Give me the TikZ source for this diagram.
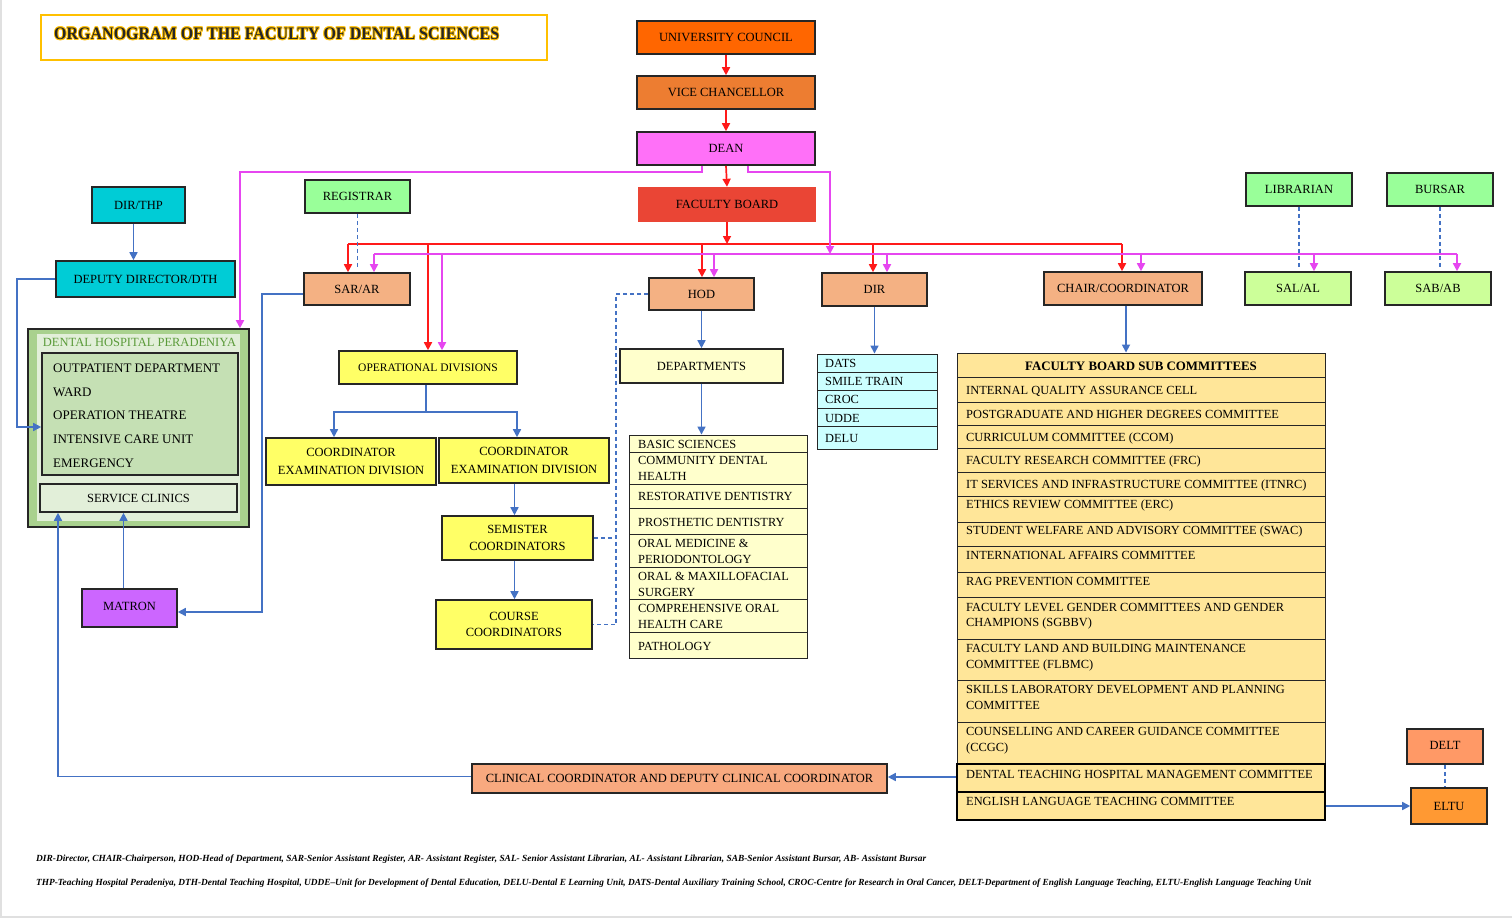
\documentclass[tikz,border=0pt]{standalone}
\usepackage{fontspec}
\setmainfont{Liberation Serif}
\usetikzlibrary{arrows.meta}
\definecolor{cUC}{HTML}{FF6600}
\definecolor{cVC}{HTML}{ED7D31}
\definecolor{cDean}{HTML}{FF70F8}
\definecolor{cFB}{HTML}{EA4535}
\definecolor{cGreen}{HTML}{99FF99}
\definecolor{cLG}{HTML}{CCFF99}
\definecolor{cSal}{HTML}{F4B183}
\definecolor{cCyan}{HTML}{00CCD6}
\definecolor{cDHP}{HTML}{A9D18E}
\definecolor{cDHPm}{HTML}{C5E0B4}
\definecolor{cDHPl}{HTML}{E2EFD9}
\definecolor{cDHPt}{HTML}{5B9B3A}
\definecolor{cMatron}{HTML}{CC66FF}
\definecolor{cYel}{HTML}{FFFF66}
\definecolor{cLY}{HTML}{FFFFCC}
\definecolor{cLC}{HTML}{CCFFFF}
\definecolor{cTab}{HTML}{FFE699}
\definecolor{cClin}{HTML}{F8A97F}
\definecolor{cDelt}{HTML}{FF9966}
\definecolor{cEltu}{HTML}{FF9933}
\definecolor{cGold}{HTML}{FFC000}
\definecolor{cBlue}{HTML}{4472C4}
\definecolor{cRed}{HTML}{FF1A1A}
\definecolor{cMag}{HTML}{E646F0}
\definecolor{cBorder}{HTML}{262626}
\newcommand\fsz{\fontsize{12.5}{15}\selectfont}
\newcommand\fsm{\fontsize{12.4}{15}\selectfont}
\newcommand\fsl{\fontsize{13}{15}\selectfont}
\newcommand\mybox[7]{%
  \pgfmathsetmacro\bw{#5-#3}\pgfmathsetmacro\bh{#6-#4}%
  \pgfmathsetmacro\bcx{(#3+#5)/2}\pgfmathsetmacro\bcy{(#4+#6)/2}%
  \node[#2, minimum width=\bw pt, minimum height=\bh pt, inner sep=0pt, align=center] (#1) at (\bcx,\bcy) {#7};}
\newcommand\tline[4]{\node[tx, anchor=base west] (#1) at (#2,#3) {#4};}
\begin{document}
\begin{tikzpicture}[x=1pt,y=-1pt,
  bx/.style={draw=cBorder, line width=1.6pt, font=\fsz},
  nob/.style={font=\fsz},
  tb/.style={draw=cBorder, line width=0.9pt},
  thk/.style={draw=black, line width=2.4pt},
  tx/.style={inner sep=0pt, font=\fsm},
  tl/.style={inner sep=0pt, font=\fsl},
  rl/.style={draw=cRed, line width=1.7pt},
  ra/.style={rl, -{Triangle[length=8pt,width=8pt]}},
  ml/.style={draw=cMag, line width=1.7pt},
  ma/.style={ml, -{Triangle[length=8pt,width=8pt]}},
  bl/.style={draw=cBlue, line width=1.6pt},
  ba/.style={bl, -{Triangle[length=8pt,width=8pt]}},
  bd/.style={bl, dash pattern=on 4pt off 3pt}]
\useasboundingbox (0,0) rectangle (1512,918);
\fill[white] (0,0) rectangle (1512,918);
\fill[black!12] (0,0) rectangle (2,918);
\fill[black!12] (0,916) rectangle (1512,918);

% title
\mybox{titlebox}{draw=cGold, line width=1.2pt}{41}{15}{547}{60}{}
\foreach \dx/\dy in {-0.8/0,0.8/0,0/-0.8,0/0.8,-0.6/-0.6,0.6/0.6,-0.6/0.6,0.6/-0.6}
  \node[anchor=base west, inner sep=0pt, text=cGold, font=\fontsize{16}{18}\selectfont\bfseries] at (54+\dx,39.5+\dy) {\scalebox{1}[1.1]{ORGANOGRAM OF THE FACULTY OF DENTAL SCIENCES}};
\node[anchor=base west, inner sep=0pt, text=black!85, font=\fontsize{16}{18}\selectfont\bfseries] (title) at (54,39.5) {\scalebox{1}[1.1]{ORGANOGRAM OF THE FACULTY OF DENTAL SCIENCES}};

% top chain
\mybox{uc}{bx,fill=cUC}{637}{21}{815}{54}{UNIVERSITY COUNCIL}
\mybox{vc}{bx,fill=cVC}{637}{76}{815}{109}{VICE CHANCELLOR}
\mybox{dean}{bx,fill=cDean}{637}{132}{815}{165}{DEAN}
\mybox{fb}{nob,fill=cFB}{638}{187}{816}{222}{FACULTY BOARD}

% left side
\mybox{reg}{bx,fill=cGreen}{305}{180}{410}{213}{REGISTRAR}
\mybox{sar}{bx,fill=cSal}{304}{273}{410}{305}{SAR/AR}
\mybox{dirthp}{bx,fill=cCyan}{92}{187}{185}{223}{DIR/THP}
\mybox{dep}{bx,fill=cCyan}{56}{261}{235}{297}{DEPUTY DIRECTOR/DTH}
\mybox{dhp}{bx,fill=cDHP}{28}{329}{249}{527}{}
\mybox{dhpin}{fill=cDHPl}{37}{334}{240}{521}{}
\node[anchor=base, inner sep=0pt, font=\fontsize{12.5}{15}\selectfont, text=cDHPt] (dhpt) at (139.5,346.5) {DENTAL HOSPITAL PERADENIYA};
\mybox{wards}{bx,fill=cDHPm}{42}{353}{238}{475}{}
\node[tl, anchor=base west] (w1) at (53,372.5) {OUTPATIENT DEPARTMENT};
\node[tl, anchor=base west] (w2) at (53,396.5) {WARD};
\node[tl, anchor=base west] (w3) at (53,419.5) {OPERATION THEATRE};
\node[tl, anchor=base west] (w4) at (53,443.5) {INTENSIVE CARE UNIT};
\node[tl, anchor=base west] (w5) at (53,467.5) {EMERGENCY};
\mybox{svc}{bx,fill=cDHPl}{40}{484}{237}{512}{SERVICE CLINICS}
\mybox{matron}{bx,fill=cMatron}{82}{589}{177}{627}{\raisebox{3pt}{MATRON}}

% operational divisions
\mybox{opdiv}{bx,fill=cYel,font=\fontsize{11.5}{14}\selectfont}{339}{351}{517}{384}{OPERATIONAL DIVISIONS}
\mybox{ced1}{bx,fill=cYel}{266}{438}{436}{485}{COORDINATOR\\[3pt]EXAMINATION DIVISION}
\mybox{ced2}{bx,fill=cYel}{439}{438}{609}{483}{COORDINATOR\\[3pt]EXAMINATION DIVISION}
\mybox{sem}{bx,fill=cYel}{442}{516}{593}{560}{SEMISTER\\[2pt]COORDINATORS}
\mybox{course}{bx,fill=cYel}{436}{600}{592}{649}{COURSE\\[1pt]COORDINATORS}

% HOD and departments
\mybox{hod}{bx,fill=cSal}{649}{278}{754}{310}{HOD}
\mybox{depts}{bx,fill=cLY}{620}{349}{783}{383}{DEPARTMENTS}
\mybox{dlist}{tb,fill=cLY}{629}{435}{807}{658}{}
\foreach \yy in {452,484,508,534,567,599,632} \draw[cBorder, line width=0.9pt] (629,\yy) -- (807,\yy);
\tline{d1}{638}{448}{BASIC SCIENCES}
\tline{d2}{638}{464}{COMMUNITY DENTAL}
\tline{d2b}{638}{480}{HEALTH}
\tline{d3}{638}{500.5}{RESTORATIVE DENTISTRY}
\tline{d4}{638}{526.5}{PROSTHETIC DENTISTRY}
\tline{d5}{638}{547.5}{ORAL MEDICINE \&}
\tline{d5b}{638}{563.5}{PERIODONTOLOGY}
\tline{d6}{638}{580.5}{ORAL \& MAXILLOFACIAL}
\tline{d6b}{638}{596.5}{SURGERY}
\tline{d7}{638}{612.5}{COMPREHENSIVE ORAL}
\tline{d7b}{638}{628.5}{HEALTH CARE}
\tline{d8}{638}{650.5}{PATHOLOGY}

% DIR
\mybox{dir}{bx,fill=cSal}{822}{273}{927}{306}{DIR}
\mybox{dirlist}{tb,fill=cLC}{817}{354}{937}{449}{}
\foreach \yy in {372,390,408,426} \draw[cBorder, line width=0.9pt] (817,\yy) -- (937,\yy);
\tline{u1}{825}{367.5}{DATS}
\tline{u2}{825}{385.5}{SMILE TRAIN}
\tline{u3}{825}{403.5}{CROC}
\tline{u4}{825}{422.5}{UDDE}
\tline{u5}{825}{442.5}{DELU}

% right top
\mybox{chair}{bx,fill=cSal}{1044}{272}{1202}{305}{CHAIR/COORDINATOR}
\mybox{lib}{bx,fill=cGreen}{1246}{173}{1352}{206}{LIBRARIAN}
\mybox{bursar}{bx,fill=cGreen}{1387}{173}{1493}{206}{BURSAR}
\mybox{sal}{bx,fill=cLG}{1245}{272}{1351}{305}{SAL/AL}
\mybox{sab}{bx,fill=cLG}{1385}{272}{1491}{305}{SAB/AB}

% committees table
\mybox{fbsc}{tb,fill=cTab}{957}{353}{1325}{764}{}
\foreach \yy in {377,402,425,448,472,496,522,546,572,597,639,680,722} \draw[cBorder, line width=0.9pt] (957,\yy) -- (1325,\yy);
\node[anchor=base, inner sep=0pt, font=\fsm\bfseries, scale=1.04] (th) at (1141,370.5) {FACULTY BOARD SUB COMMITTEES};
\tline{c1}{966}{394.5}{INTERNAL QUALITY ASSURANCE CELL}
\tline{c2}{966}{418.5}{POSTGRADUATE AND HIGHER DEGREES COMMITTEE}
\tline{c3}{966}{441.5}{CURRICULUM COMMITTEE (CCOM)}
\tline{c4}{966}{464.5}{FACULTY RESEARCH COMMITTEE (FRC)}
\tline{c5}{966}{488.5}{IT SERVICES AND INFRASTRUCTURE COMMITTEE (ITNRC)}
\tline{c6}{966}{508.5}{ETHICS REVIEW COMMITTEE (ERC)}
\tline{c7}{966}{534.5}{STUDENT WELFARE AND ADVISORY COMMITTEE (SWAC)}
\tline{c8}{966}{559.5}{INTERNATIONAL AFFAIRS COMMITTEE}
\tline{c9}{966}{585.5}{RAG PREVENTION COMMITTEE}
\tline{c10}{966}{611.5}{FACULTY LEVEL GENDER COMMITTEES AND GENDER}
\tline{c10b}{966}{626.5}{CHAMPIONS (SGBBV)}
\tline{c11}{966}{652.5}{FACULTY LAND AND BUILDING MAINTENANCE}
\tline{c11b}{966}{668.5}{COMMITTEE (FLBMC)}
\tline{c12}{966}{693.5}{SKILLS LABORATORY DEVELOPMENT AND PLANNING}
\tline{c12b}{966}{709.5}{COMMITTEE}
\tline{c13}{966}{735.5}{COUNSELLING AND CAREER GUIDANCE COMMITTEE}
\tline{c13b}{966}{751.5}{(CCGC)}
\mybox{dthmc}{thk,fill=cTab}{957}{764}{1325}{792}{}
\tline{c14}{966}{778.5}{DENTAL TEACHING HOSPITAL MANAGEMENT COMMITTEE}
\mybox{eltc}{thk,fill=cTab}{957}{792}{1325}{820}{}
\tline{c15}{966}{805.5}{ENGLISH LANGUAGE TEACHING COMMITTEE}

% bottom boxes
\mybox{clin}{bx,fill=cClin}{472}{764}{887}{793}{CLINICAL COORDINATOR AND DEPUTY CLINICAL COORDINATOR}
\mybox{delt}{bx,fill=cDelt}{1407}{729}{1483}{764}{\raisebox{2pt}{DELT}}
\mybox{eltu}{bx,fill=cEltu}{1411}{788}{1487}{824}{ELTU}

% ---------------- connectors
\draw[ra] (uc.south) -- (vc.north);
\draw[ra] (vc.south) -- (dean.north);
\draw[ra] (dean.south) -- (fb.north);
\coordinate (rL) at (348,244);
\coordinate (rR) at (1122,244);
\coordinate (r2) at (428,244);
\coordinate (r3) at (702,244);
\coordinate (r4) at (873,244);
\draw[ra] (fb.south) -- (fb.south |- rL);
\draw[rl] (rL) -- (rR);
\draw[ra] (rL) -- (rL |- sar.north);
\draw[ra] (r2) -- (r2 |- opdiv.north);
\draw[ra] (r3) -- (r3 |- hod.north);
\draw[ra] (r4) -- (r4 |- dir.north);
\draw[ra] (rR) -- (rR |- chair.north);

\coordinate (mL) at (374,254);
\coordinate (mR) at (1457,254);
\coordinate (m2) at (442,254);
\coordinate (m3) at (714,254);
\coordinate (m4) at (887,254);
\coordinate (m5) at (1141,254);
\coordinate (m6) at (1314,254);
\coordinate (mj) at (830,254);
\coordinate (mjc) at (830,172);
\coordinate (dlc) at (240,172);
\draw[ml] (mL) -- (mR);
\draw[ma] (mL) -- (mL |- sar.north);
\draw[ma] (m2) -- (m2 |- opdiv.north);
\draw[ma] (m3) -- (m3 |- hod.north);
\draw[ma] (m4) -- (m4 |- dir.north);
\draw[ma] (m5) -- (m5 |- chair.north);
\draw[ma] (m6) -- (m6 |- sal.north);
\draw[ma] (mR) -- (mR |- sab.north);
\draw[ma] ([xshift=66pt]dean.south west) |- (dlc) -- (dlc |- dhp.north);
\draw[ma] ([xshift=112pt]dean.south west) |- (mjc) -- (mj);

\draw[bd] (reg.south) -- ([yshift=3pt]reg.south |- sar.north);
\draw[bd] (lib.south) -- ([yshift=2pt]lib.south |- sal.north);
\draw[bd] (bursar.south) -- ([yshift=2pt]bursar.south |- sab.north);
\draw[bd] (delt.south) -- (delt.south |- eltu.north);

\draw[ba] ([xshift=-5pt]dirthp.south) -- ([xshift=-5pt]dirthp.south |- dep.north);
\coordinate (dpl) at (17,279);
\draw[ba] (dep.west) -- (dpl) |- ([yshift=-13pt]wards.west);
\coordinate (smc) at (262,612);
\draw[ba] ([yshift=-5pt]sar.west) -| (smc) -- (smc -| matron.east);
\draw[ba] ([xshift=-6pt]matron.north) -- ([xshift=-6pt]matron.north |- svc.south);
\coordinate (ccl) at (58,0);
\draw[ba] ([yshift=2pt]clin.west) -| (ccl |- svc.south);
\draw[ba] ([yshift=1pt]dthmc.west) -- ([yshift=1pt]dthmc.west -| clin.east);

\coordinate (otj) at (426,412);
\coordinate (ot1) at (334,412);
\coordinate (ot2) at (517,412);
\draw[bl] (otj |- opdiv.south) -- (otj);
\draw[ba] (otj) -- (ot1) -- (ot1 |- ced1.north);
\draw[ba] (otj) -- (ot2) -- (ot2 |- ced2.north);
\draw[ba] ([xshift=-3pt]sem.north |- ced2.south) -- ([xshift=-3pt]sem.north);
\draw[ba] ([xshift=-3pt]sem.south) -- ([xshift=-3pt]sem.south |- course.north);

\coordinate (hdx) at (616,0);
\draw[bd] (hod.west) -| (hdx |- course.east) -- (course.east);
\draw[bd] (sem.east) -- (sem.east -| hdx);

\draw[ba] (hod.south) -- (hod.south |- depts.north);
\draw[ba] (depts.south) -- (depts.south |- dlist.north);
\draw[ba] (dir.south) -- (dir.south |- dirlist.north);
\draw[ba] ([xshift=3pt]chair.south) -- ([xshift=3pt]chair.south |- fbsc.north);
\draw[ba] (eltc.east) -- (eltc.east -| eltu.west);

% footer
\node[anchor=base west, inner sep=0pt] (f1) at (36,861.5) {\resizebox{890pt}{6.6pt}{\bfseries\itshape DIR-Director, CHAIR-Chairperson, HOD-Head of Department, SAR-Senior Assistant Register, AR- Assistant Register, SAL- Senior Assistant Librarian, AL- Assistant Librarian, SAB-Senior Assistant Bursar, AB- Assistant Bursar}};
\node[anchor=base west, inner sep=0pt] (f2) at (36,885.5) {\resizebox{1275pt}{6.6pt}{\bfseries\itshape THP-Teaching Hospital Peradeniya, DTH-Dental Teaching Hospital, UDDE--Unit for Development of Dental Education, DELU-Dental E Learning Unit, DATS-Dental Auxiliary Training School, CROC-Centre for Research in Oral Cancer, DELT-Department of English Language Teaching, ELTU-English Language Teaching Unit}};
\end{tikzpicture}
\end{document}
